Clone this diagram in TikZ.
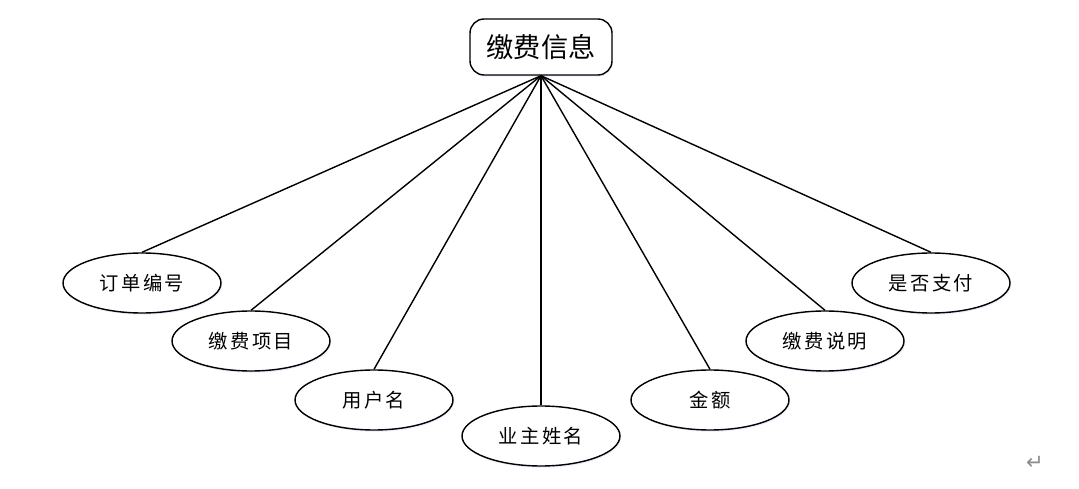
\documentclass[tikz,border=0pt]{standalone}
\usepackage{fontspec}
\newfontfamily\cjk{Noto Sans CJK SC}
\newfontfamily\cjkwide[LetterSpace=12]{Noto Sans CJK SC}
\newfontfamily\symfont{DejaVu Sans}
\usepackage{tikz}
\usetikzlibrary{shapes.geometric}
\usetikzlibrary{shadows}
\usetikzlibrary{positioning}
\tikzset{attr/.style={ellipse, draw=black, thick, fill=white, minimum width=3.16cm, minimum height=1.2cm, inner sep=0pt, font=\cjkwide\fontsize{11}{13}\selectfont,
    drop shadow={fill=blue!12, opacity=0.6, shadow xshift=0.5pt, shadow yshift=-1pt}}}
\tikzset{entity/.style={rectangle, rounded corners=8pt, draw=black, thick, fill=white, minimum width=2.84cm, minimum height=1.12cm, font=\cjk\fontsize{15.5}{18}\selectfont,
    drop shadow={fill=blue!12, opacity=0.6, shadow xshift=0.5pt, shadow yshift=-1pt}}}
\tikzset{link/.style={thick, black}}

\begin{document}
\begin{tikzpicture}[x=0.02cm, y=-0.02cm]
\useasboundingbox (0,0) rectangle (1079,489);

\node[entity] (fee) at (541,47) {缴费信息};

\node[attr] (order) at (142,283) {订单编号};
\node[attr] (item) at (251,341) {缴费项目};
\node[attr] (user) at (374,400) {用户名};
\node[attr] (owner) at (541,436) {业主姓名};
\node[attr] (amount) at (710,400) {金额};
\node[attr] (note) at (825,341) {缴费说明};
\node[attr] (paid) at (931,283) {是否支付};

\foreach \a in {order,item,user,owner,amount,note,paid}
  \draw[link] (fee.south) -- (\a.north);

\node[text=black!45, font=\symfont\fontsize{12}{14}\selectfont] (ret) at (1035,463) {↵};
\end{tikzpicture}
\end{document}
